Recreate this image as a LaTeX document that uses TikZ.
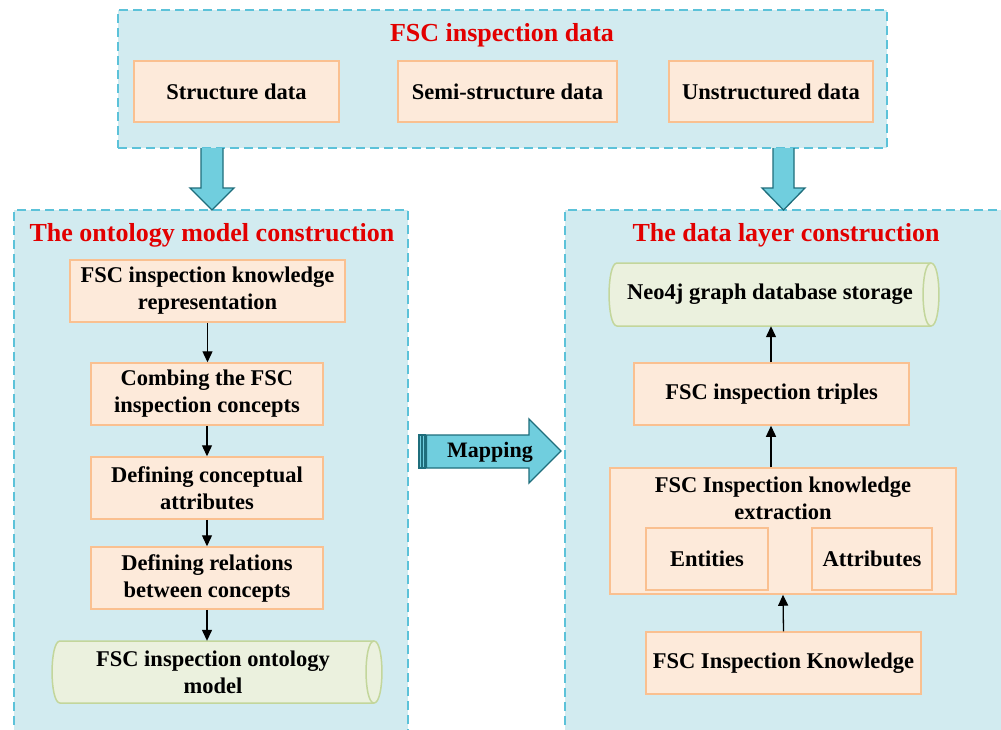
\documentclass[tikz,border=0pt]{standalone}
\usepackage{fontspec}
\setmainfont{Liberation Serif}
\usetikzlibrary{arrows.meta}
\definecolor{panelfill}{HTML}{D2EBF0}
\definecolor{paneldraw}{HTML}{5CC2D9}
\definecolor{boxfill}{HTML}{FDEADA}
\definecolor{boxdraw}{HTML}{FAC090}
\definecolor{cylfill}{HTML}{EBF1DE}
\definecolor{cyldraw}{HTML}{C3D69B}
\definecolor{bigfill}{HTML}{70CEDE}
\definecolor{bigdraw}{HTML}{1F6E7C}
\definecolor{titlered}{HTML}{E20000}
\tikzset{
  panel/.style={draw=paneldraw, fill=panelfill, line width=1.5pt, dash pattern=on 9pt off 5pt, inner sep=0pt},
  obox/.style={draw=boxdraw, fill=boxfill, line width=1.5pt, inner sep=0pt, align=center, font=\boxfont},
  cyltext/.style={inner sep=0pt, align=center, font=\boxfont},
  cylpath/.style={draw=cyldraw, fill=cylfill, line width=1.5pt},
  ttl/.style={text=titlered, font=\titlefont, anchor=base, inner sep=0pt},
  bigarrow/.style={draw=bigdraw, fill=bigfill, line width=1.3pt, line join=miter},
  conn/.style={line width=1.3pt, -{Triangle[length=11pt,width=10pt]}},
}
\newcommand{\boxfont}{\fontsize{22.5}{27}\selectfont\bfseries}
\newcommand{\titlefont}{\fontsize{26}{31}\selectfont\bfseries}
\begin{document}
\begin{tikzpicture}[x=1pt,y=-1pt]
\useasboundingbox (0,0) rectangle (1001,729);
\clip (0,0) rectangle (1001,729);
\fill[white] (0,0) rectangle (1001,729);

% panels
\node[panel, minimum width=769pt, minimum height=138pt] (toppanel) at (502.5,79) {};
\node[panel, minimum width=394pt, minimum height=540pt] (leftpanel) at (211,480) {};
\node[panel, minimum width=450pt, minimum height=540pt] (rightpanel) at (790,480) {};

% titles
\node[ttl] (ttop) at (502,41.5) {FSC inspection data};
\node[ttl] (tleft) at (212,241) {The ontology model construction};
\node[ttl] (tright) at (786,241) {The data layer construction};

% top boxes
\node[obox, minimum width=205pt, minimum height=61pt] (sd) at (236.5,91.5) {Structure data};
\node[obox, minimum width=219pt, minimum height=61pt] (ssd) at (507.5,91.5) {Semi-structure data};
\node[obox, minimum width=204pt, minimum height=61pt] (usd) at (771,91.5) {Unstructured data};

% big down arrows
\draw[bigarrow] (201,148) -- (201,188) -- (190,188) -- (212,210) -- (234,188) -- (223,188) -- (223,148);
\draw[bigarrow] (773,148) -- (773,188) -- (762,188) -- (783.5,210) -- (805,188) -- (794,188) -- (794,148);
\coordinate (dl) at (212,210);
\coordinate (dr) at (783.5,210);

% left column
\node[obox, minimum width=275pt, minimum height=62pt] (b1) at (207.5,291) {FSC inspection knowledge\\representation};
\node[obox, minimum width=232pt, minimum height=62pt] (b2) at (207,394) {Combing the FSC\\inspection concepts};
\node[obox, minimum width=232pt, minimum height=62pt] (b3) at (207,488) {Defining conceptual\\attributes};
\node[obox, minimum width=232pt, minimum height=62pt] (b4) at (207,578) {Defining relations\\between concepts};
\path[cylpath] (60,641) -- (374,641) .. controls (384.6,641) and (384.6,703) .. (374,703) -- (60,703) .. controls (49.4,703) and (49.4,641) .. (60,641) -- cycle;
\draw[cyldraw, line width=1.5pt] (374,641) .. controls (363.4,641) and (363.4,703) .. (374,703);
\node[cyltext, minimum width=322pt, minimum height=62pt] (onto) at (213,672) {FSC inspection ontology\\model};

\draw[conn] (b1.south -| 207.5,0) -- (b2.north -| 207.5,0);
\draw[conn] (b2.south) -- (b3.north);
\draw[conn] (b3.south) -- (b4.north);
\draw[conn] (b4.south) -- (b4.south |- onto.north);

% right column
\path[cylpath] (617,263) -- (931,263) .. controls (941.6,263) and (941.6,326) .. (931,326) -- (617,326) .. controls (606.4,326) and (606.4,263) .. (617,263) -- cycle;
\draw[cyldraw, line width=1.5pt] (931,263) .. controls (920.4,263) and (920.4,326) .. (931,326);
\node[cyltext, minimum width=322pt, minimum height=63pt] (neo) at (770,294.5) {Neo4j graph database storage};

\node[obox, minimum width=275pt, minimum height=62pt] (tri) at (771.5,394) {FSC inspection triples};
\node[obox, minimum width=346pt, minimum height=126pt] (ext) at (783,531) {};
\node[inner sep=0pt, align=center, font=\boxfont] (extlabel) at (783,498) {FSC Inspection knowledge\\extraction};
\node[obox, minimum width=122pt, minimum height=62pt] (ent) at (707,559) {Entities};
\node[obox, minimum width=120pt, minimum height=62pt] (att) at (872,559) {Attributes};
\node[obox, minimum width=275pt, minimum height=62pt] (kn) at (783.5,663) {FSC Inspection Knowledge};

\draw[conn] (tri.north -| 771,0) -- (neo.south -| 771,0);
\draw[conn] (ext.north -| 771,0) -- (tri.south -| 771,0);
\draw[conn] (kn.north) -- (ext.south);

% mapping arrow
\path[bigarrow] (419,435) rectangle (421.5,468);
\path[bigarrow] (422.5,435) rectangle (425,468);
\draw[bigarrow] (426.5,435) -- (529,435) -- (529,419) -- (561,451) -- (529,483) -- (529,468) -- (426.5,468) -- cycle;
\node[inner sep=0pt, font=\fontsize{22}{26}\selectfont\bfseries] (map) at (490,452) {Mapping};
\end{tikzpicture}
\end{document}
